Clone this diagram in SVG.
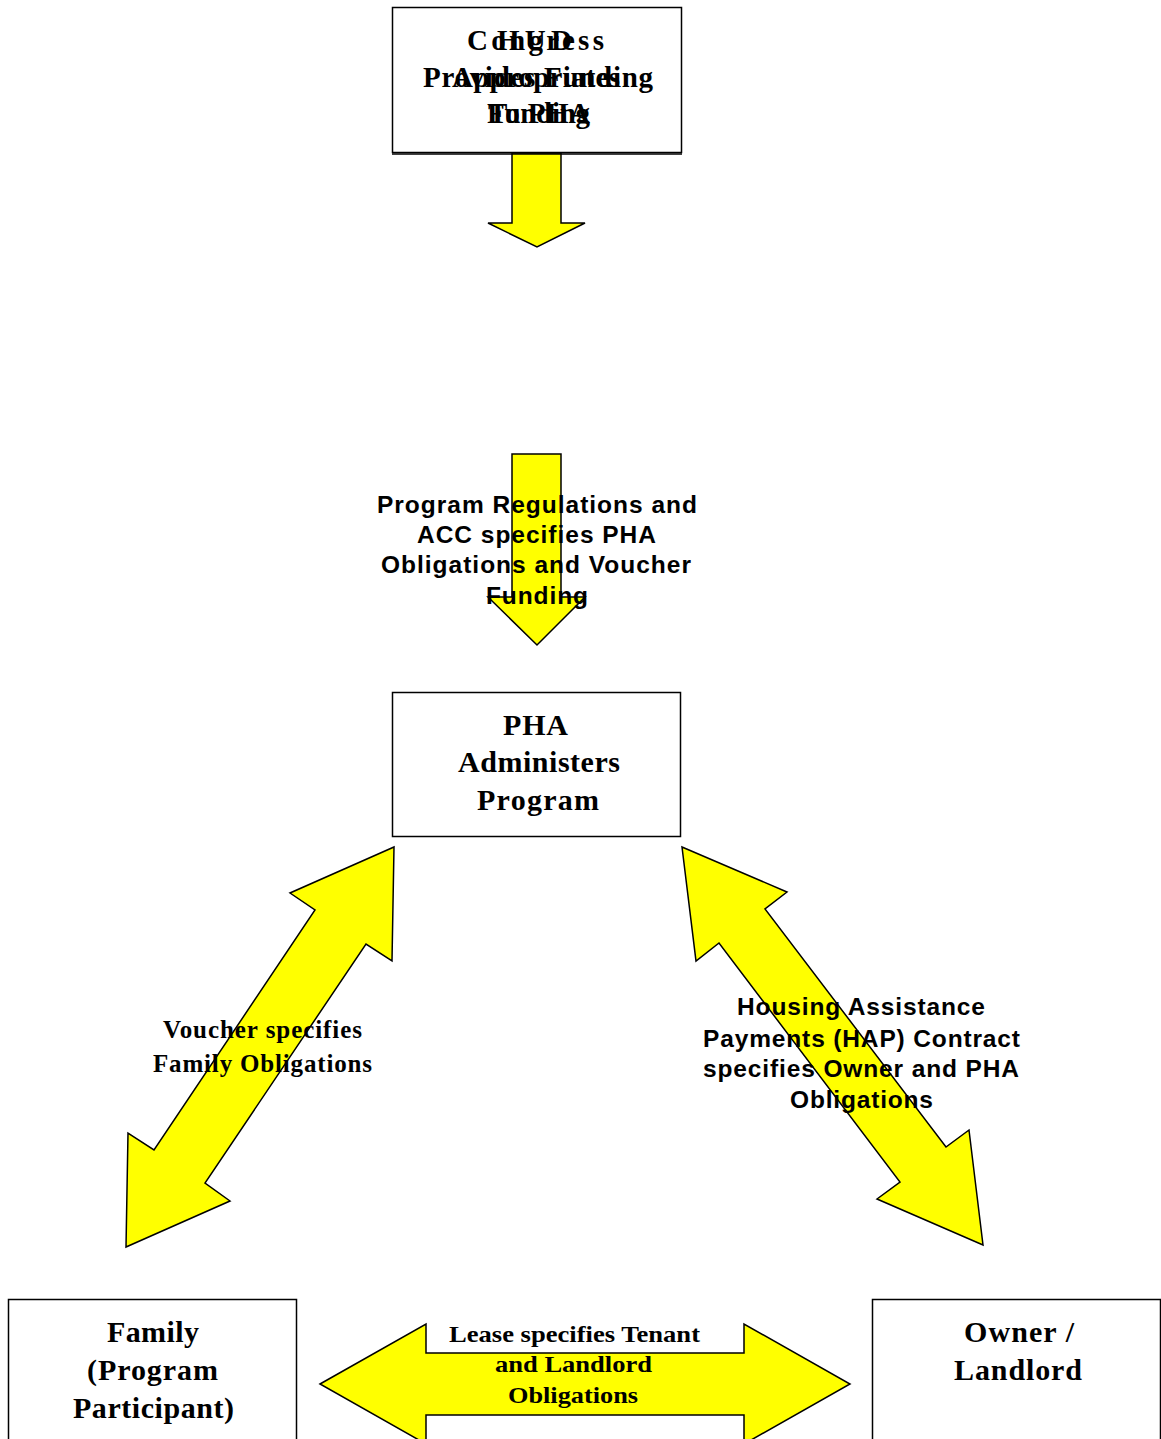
<svg xmlns="http://www.w3.org/2000/svg" width="1161" height="1439" viewBox="0 0 1161 1439">
<style>
.box{fill:#fff;stroke:#000;stroke-width:1.5}
.arr{fill:#ffff00;stroke:#000;stroke-width:1.5;stroke-linejoin:miter}
.tb{font-family:"Liberation Serif",serif;font-weight:bold;fill:#000;text-anchor:middle}
.ab{font-family:"Liberation Sans",sans-serif;font-weight:bold;fill:#000;text-anchor:middle}
</style>
<rect width="1161" height="1439" fill="#fff"/>
<g id="connectors">
<polygon class="arr" points="512,153 561,153 561,223 585,223 537,247 488,223 512,223"/>
<polygon class="arr" points="512,454 561,454 561,597 585,597 537,645 488,597 512,597"/>
<polygon class="arr" points="394,847 392,961 366,944 205,1183 230,1201 126,1247 128,1133 154,1150 315,910 290,893"/>
<polygon class="arr" points="682,847 787,892 765,909 946,1147 969,1130 983,1245 877,1199 900,1182 719,943 696,961"/>
<polygon class="arr" points="320,1384 426,1324 426,1353 744,1353 744,1324 850,1384 744,1444 744,1415 426,1415 426,1444"/>
</g>
<g id="node-top">
<rect class="box" x="392.5" y="7.5" width="289" height="145" stroke-width="2.5"/>
<line x1="392" y1="154" x2="682" y2="154" stroke="#000" stroke-width="1.5"/>
<text class="tb" font-size="29" x="535.5" y="50" textLength="137">Congress</text>
<text class="tb" font-size="29" x="536" y="87" textLength="168">Appropriates</text>
<text class="tb" font-size="29" x="538.5" y="123" textLength="103">Funding</text>
<text class="tb" font-size="29" x="534.5" y="50" textLength="75">HUD</text>
<text class="tb" font-size="29" x="538" y="87" textLength="230">Provides Funding</text>
<text class="tb" font-size="29" x="539" y="123" textLength="102">To PHA</text>
</g>
<g id="label-acc">
<text class="ab" font-size="24.5" x="537" y="513" textLength="320">Program Regulations and</text>
<text class="ab" font-size="24.5" x="536.5" y="543" textLength="239">ACC specifies PHA</text>
<text class="ab" font-size="24.5" x="536" y="573" textLength="310">Obligations and Voucher</text>
<text class="ab" font-size="24.5" x="537" y="604" textLength="102">Funding</text>
</g>
<g id="node-pha">
<rect class="box" x="392.5" y="692.5" width="288" height="144"/>
<text class="tb" font-size="30" x="535.5" y="735" textLength="65">PHA</text>
<text class="tb" font-size="30" x="539" y="772" textLength="162">Administers</text>
<text class="tb" font-size="30" x="538" y="810" textLength="122">Program</text>
</g>
<g id="label-voucher">
<text class="tb" font-size="25" x="262.5" y="1038" textLength="199">Voucher specifies</text>
<text class="tb" font-size="25" x="262.5" y="1072" textLength="219">Family Obligations</text>
</g>
<g id="label-hap">
<text class="ab" font-size="24.5" x="861" y="1015" textLength="248">Housing Assistance</text>
<text class="ab" font-size="24.5" x="861.5" y="1047" textLength="317">Payments (HAP) Contract</text>
<text class="ab" font-size="24.5" x="861" y="1077" textLength="316">specifies Owner and PHA</text>
<text class="ab" font-size="24.5" x="861.5" y="1108" textLength="143">Obligations</text>
</g>
<g id="node-family">
<rect class="box" x="8.5" y="1299.5" width="288" height="160"/>
<text class="tb" font-size="30" x="153" y="1342" textLength="92">Family</text>
<text class="tb" font-size="30" x="152.5" y="1380" textLength="131">(Program</text>
<text class="tb" font-size="30" x="153.5" y="1418" textLength="161">Participant)</text>
</g>
<g id="node-owner">
<rect class="box" x="872.5" y="1299.5" width="288" height="160"/>
<text class="tb" font-size="30" x="1019" y="1342" textLength="110">Owner /</text>
<text class="tb" font-size="30" x="1018" y="1380" textLength="128">Landlord</text>
</g>
<g id="label-lease">
<text class="tb" font-size="23" x="574.5" y="1342" textLength="251" lengthAdjust="spacingAndGlyphs">Lease specifies Tenant</text>
<text class="tb" font-size="23" x="573.5" y="1372" textLength="157" lengthAdjust="spacingAndGlyphs">and Landlord</text>
<text class="tb" font-size="23" x="573" y="1403" textLength="130" lengthAdjust="spacingAndGlyphs">Obligations</text>
</g>
</svg>
